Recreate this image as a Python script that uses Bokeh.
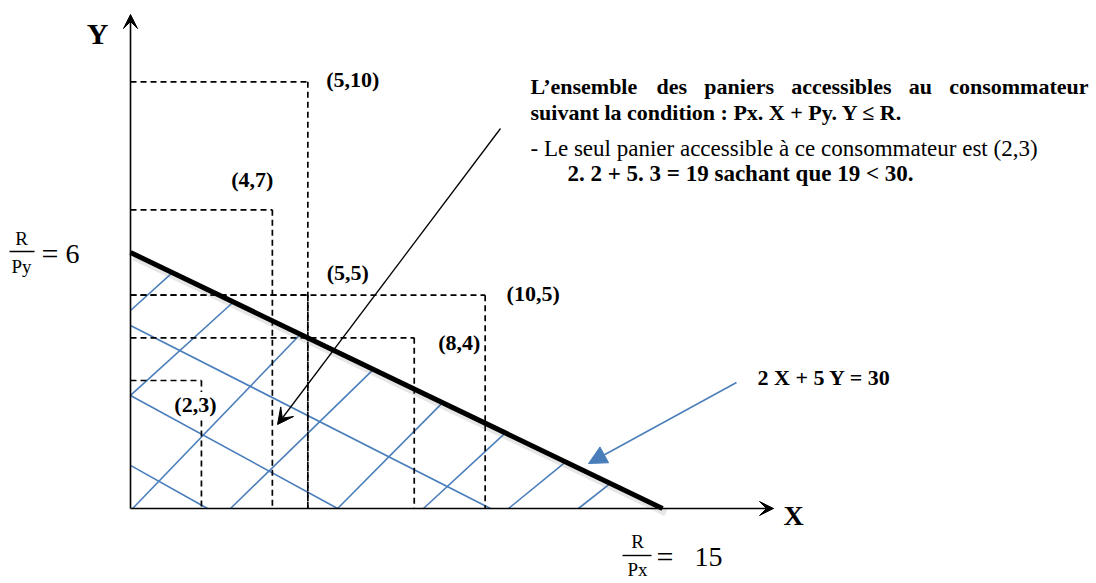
from bokeh.plotting import figure
from bokeh.models import Range1d, Label, Arrow, VeeHead, NormalHead
from bokeh.embed import file_html
from bokeh.resources import INLINE

# ---------------- data ----------------
R = 30          # revenu
PX = 2          # prix de X
PY = 5          # prix de Y
x_max = R / PX  # 15
y_max = R / PY  # 6

basket_x = [5, 4, 5, 10, 8, 2]
basket_y = [10, 7, 5, 5, 4, 3]
basket_labels = ["(5,10)", "(4,7)", "(5,5)", "(10,5)", "(8,4)", "(2,3)"]

# hatching of the budget set
hatch_up_x0 = [0, 0, 0.06, 2.82, 5.84, 8.26, 10.66, 12.63]
hatch_up_y0 = [4.64, 2.65, 0, 0, 0, 0, 0, 0]
hatch_up_x1 = [1.18, 2.90, 4.79, 6.85, 8.80, 10.57, 12.27, 13.53]
hatch_down_y0 = [4.29, 2.65, 1.01]
hatch_down_x1 = [10.15, 5.84, 2.17]

# ---------------- layout ----------------
W, H = 1096, 583
OX, OY = 130, 508            # picture position of the origin
SX = 532 / x_max             # px per unit of X
SY = 256 / y_max             # px per unit of Y
BLUE = "#4A7EBB"
FONT = "Liberation Serif"

# label offsets (px) from each basket's corner
label_off = [(45, -2), (-20, -30), (40, -23), (48, -2), (45, 5), (-6, 24)]


def X(px):
    return (px - OX) / SX


def Y(py):
    return (OY - py) / SY


def budget(x):
    return (R - PX * x) / PY


p = figure(width=W, height=H, x_range=Range1d(X(0), X(W)), y_range=Range1d(Y(H), Y(0)),
           x_axis_type=None, y_axis_type=None, output_backend="svg", toolbar_location=None,
           min_border=0)
p.grid.visible = False
p.outline_line_color = None
p.background_fill_color = "white"


def txt(x, y, s, size, bold=True, align="center", baseline="middle", bg=None, xo=0, yo=0):
    lab = Label(x=x, y=y, text=s, text_font=FONT, text_font_size=f"{size}px",
                text_font_style="bold" if bold else "normal", text_align=align,
                text_baseline=baseline, text_color="black", x_offset=xo, y_offset=yo)
    if bg:
        lab.background_fill_color = bg
    p.add_layout(lab)


def ptxt(px, py, s, size, **kw):
    txt(X(px), Y(py), s, size, **kw)


# hatching
p.segment(x0=hatch_up_x0, y0=hatch_up_y0, x1=hatch_up_x1, y1=[budget(v) for v in hatch_up_x1],
          line_color=BLUE, line_width=1.6)
p.segment(x0=[0] * len(hatch_down_y0), y0=hatch_down_y0, x1=hatch_down_x1, y1=[0] * len(hatch_down_x1),
          line_color=BLUE, line_width=1.6)

# dashed baskets
p.segment(x0=[0] * len(basket_x), y0=basket_y, x1=basket_x, y1=basket_y,
          line_color="black", line_width=1.7, line_dash="6 4")
p.segment(x0=basket_x, y0=basket_y, x1=basket_x, y1=[0] * len(basket_x),
          line_color="black", line_width=1.7, line_dash="6 4")

# budget line with soft shadow
p.line([0.1, x_max + 0.1], [y_max - 0.09, -0.09], line_width=8, color="#777777", alpha=0.18)
p.line([0, x_max], [y_max, 0], line_width=5, color="black")

# axes
p.add_layout(Arrow(end=VeeHead(size=14, fill_color="black", line_color="black", line_width=1),
                   x_start=0, y_start=0, x_end=X(773), y_end=0, line_width=1.6, line_color="black"))
p.add_layout(Arrow(end=VeeHead(size=14, fill_color="black", line_color="black", line_width=1),
                   x_start=0, y_start=0, x_end=0, y_end=Y(14), line_width=1.6, line_color="black"))

# pointer arrows
p.add_layout(Arrow(end=VeeHead(size=16, fill_color="black", line_color="black", line_width=1),
                   x_start=X(500), y_start=Y(128), x_end=X(277), y_end=Y(424),
                   line_width=1.3, line_color="black"))
p.add_layout(Arrow(end=NormalHead(size=18, fill_color=BLUE, line_color=BLUE, line_width=1),
                   x_start=X(736), y_start=Y(382), x_end=X(588), y_end=Y(463),
                   line_width=1.5, line_color=BLUE))

# basket labels
for s, bx, by, (ox, oy) in zip(basket_labels, basket_x, basket_y, label_off):
    txt(bx, by, s, 22, xo=ox, yo=-oy, bg="white" if s == "(2,3)" else None)

# axis names
ptxt(97, 33, "Y", 30)
ptxt(793, 515, "X", 28)

# fractions R/Py = 6 and R/Px = 15
ptxt(21, 238, "R", 19, bold=False)
ptxt(21, 266, "Py", 19, bold=False)
p.segment(x0=[X(9), X(622)], y0=[Y(251), Y(555)], x1=[X(34), X(651)], y1=[Y(251), Y(555)],
          line_color="black", line_width=1.4)
ptxt(41, 253, "=", 30, bold=False, align="left")
ptxt(65, 253, "6", 28, bold=False, align="left")
ptxt(637, 541, "R", 19, bold=False)
ptxt(637, 569, "Px", 19, bold=False)
ptxt(656, 556, "=", 30, bold=False, align="left")
ptxt(694, 556, "15", 28, bold=False, align="left")

# equation of the budget line
ptxt(757, 377, "2 X + 5 Y =  30", 22, align="left")

# explanatory text block
fs = 22
words = ["L\u2019ensemble", "des", "paniers", "accessibles", "au", "consommateur"]
word_em = [4.944, 1.389, 3.167, 4.555, 1.056, 6.332]
left, right = 530, 1088
gap = ((right - left) - sum(word_em) * fs) / (len(words) - 1)
cx = left
for w_, em in zip(words, word_em):
    ptxt(cx, 86, w_, fs, align="left", baseline="alphabetic")
    cx += em * fs + gap
ptxt(530, 112, "suivant la condition : Px. X + Py. Y \u2264 R.", fs, align="left", baseline="alphabetic")
ptxt(530, 148, "- Le seul panier accessible \u00e0 ce consommateur est (2,3)", fs + 1, bold=False,
     align="left", baseline="alphabetic")
ptxt(567, 173, "2. 2 + 5. 3 = 19 sachant que 19 < 30.", fs + 1, align="left", baseline="alphabetic")

open("out.html", "w").write(file_html(p, INLINE))
